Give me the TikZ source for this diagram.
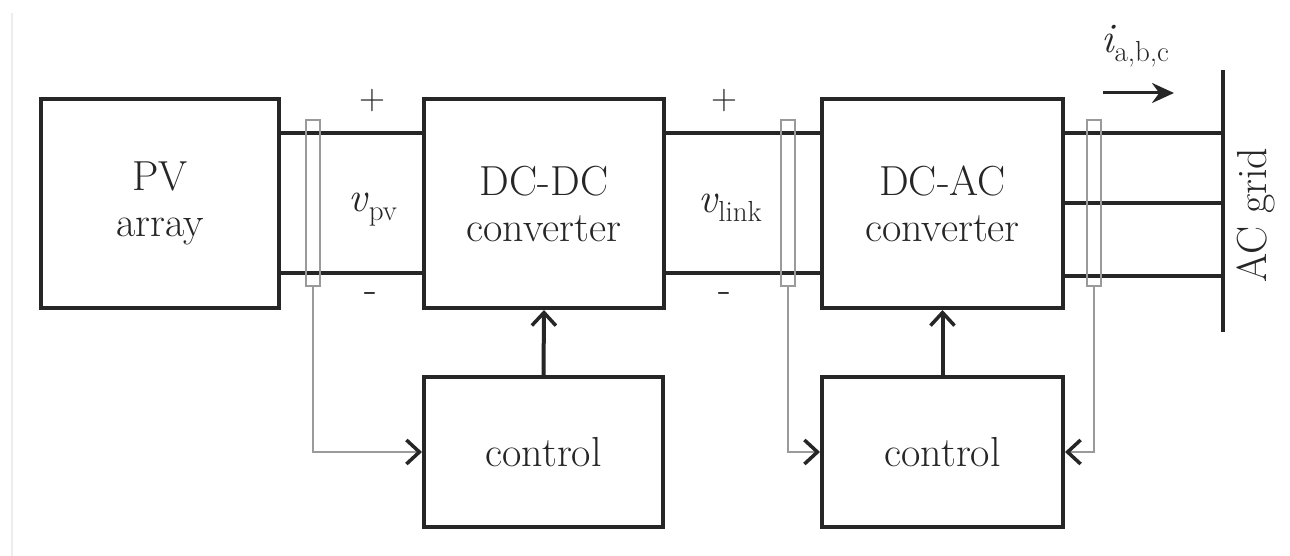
\documentclass[tikz,border=0pt]{standalone}
\usetikzlibrary{arrows.meta,calc}
\definecolor{ink}{HTML}{262626}
\definecolor{sens}{HTML}{9A9A9A}
\newcommand{\subtxt}[2]{{\itshape #1}\kern1pt\raisebox{-9pt}{\fontsize{29}{30}\selectfont #2}}
\tikzset{
  blk/.style={draw=ink, line width=4pt, rectangle, inner sep=0pt, align=center,
    font=\fontsize{42}{46}\selectfont, text=ink},
  wire/.style={draw=ink, line width=4pt},
  sensor/.style={draw=sens, line width=1.1pt, rectangle, inner sep=0pt,
    minimum width=14pt, minimum height=166pt},
  sig/.style={draw=sens, line width=1.3pt,
    -{Straight Barb[length=13pt,width=24pt,line width=3.5pt,color=ink]}},
  ctl/.style={draw=ink, line width=4pt,
    -{Straight Barb[length=13pt,width=24pt,line width=3.5pt]}},
  lbl/.style={inner sep=0pt, text=ink, font=\fontsize{42}{46}\selectfont},
  sgn/.style={inner sep=0pt, text=ink, font=\fontsize{36}{38}\selectfont},
}
\begin{document}
\begin{tikzpicture}[x=1pt,y=-1pt]
\useasboundingbox (0,0) rectangle (1290,556);
\fill[white] (0,0) rectangle (1290,556);
\draw[black!7, line width=2pt] (12,13) -- (12,556);

% blocks
\node[blk, minimum width=238pt, minimum height=209pt] (pv)   at (160,203.5) {PV\\array};
\node[blk, minimum width=240pt, minimum height=209pt] (dcdc) at (544,203.5) {DC-DC\\converter};
\node[blk, minimum width=241pt, minimum height=209pt] (dcac) at (942.5,203.5) {DC-AC\\converter};
\node[blk, minimum width=239pt, minimum height=150pt] (c1)   at (543.5,452) {control};
\node[blk, minimum width=241pt, minimum height=150pt] (c2)   at (942.5,452) {control};

% DC wires
\draw[wire] ([yshift=70pt]pv.east) -- ([yshift=70pt]dcdc.west);
\draw[wire] ([yshift=-69pt]pv.east) -- ([yshift=-69pt]dcdc.west);
\draw[wire] ([yshift=70pt]dcdc.east) -- ([yshift=70pt]dcac.west);
\draw[wire] ([yshift=-69pt]dcdc.east) -- ([yshift=-69pt]dcac.west);

% grid bar and AC wires
\coordinate (gt) at (1223,70);
\coordinate (gb) at (1223,332);
\draw[wire] (gt) -- (gb);
\coordinate (a1) at ([yshift=70pt]dcac.east);
\coordinate (a2) at (dcac.east);
\coordinate (a3) at ([yshift=-72pt]dcac.east);
\draw[wire] (a1) -- (a1 -| gt);
\draw[wire] (a2) -- (a2 -| gt);
\draw[wire] (a3) -- (a3 -| gt);

% sensors
\node[sensor] (s1) at (313,203) {};
\node[sensor] (s2) at (788,203) {};
\node[sensor] (s3) at (1094,203) {};
\draw[sig] (s1.south) |- (c1.west);
\draw[sig] (s2.south) |- (c2.west);
\draw[sig] (s3.south) |- (c2.east);

% control arrows
\draw[ctl] (c1.north) -- (dcdc.south);
\draw[ctl] (c2.north) -- (dcac.south);

% labels
\node[lbl] (vpv) at (373,210) {\subtxt{v}{pv}};
\node[lbl] (vlink) at (730,208) {\subtxt{v}{link}};
\node[sgn] (p1) at (372,101) {+};
\node[sgn] (p2) at (724,101) {+};
\node[lbl] (m1) at (371,298) {-};
\node[lbl] (m2) at (725,298) {-};
\node[lbl] (iabc) at (1135,46) {\subtxt{i}{a,b,c}};
\coordinate (ia) at (1103,93);
\coordinate (ib) at (1174,93);
\draw[draw=ink, line width=3pt, -{Stealth[length=22pt,width=20pt]}] (ia) -- (ib);
\node[lbl, rotate=90] (grid) at (1256,215) {AC grid};
\end{tikzpicture}
\end{document}
